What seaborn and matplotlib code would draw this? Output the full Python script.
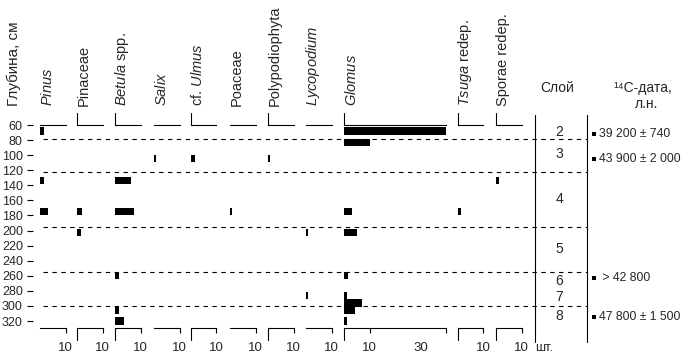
import matplotlib
matplotlib.use("Agg")
import matplotlib.pyplot as plt
import numpy as np
import pandas as pd
import seaborn as sns

# counts (шт.) per sample depth (cm)
pinus_depth = [68, 134, 175]
pinus_n = [1.7, 1.7, 3.0]
pinaceae_depth = [175, 203]
pinaceae_n = [2.1, 1.6]
betula_depth = [134, 175, 260, 306, 320]
betula_n = [6.3, 7.5, 1.4, 1.4, 3.5]
salix_depth = [104]
salix_n = [0.8]
ulmus_depth = [104]
ulmus_n = [1.4]
poaceae_depth = [175]
poaceae_n = [0.9]
polypod_depth = [104]
polypod_n = [0.9]
lycopodium_depth = [203, 286]
lycopodium_n = [0.9, 0.9]
glomus_depth = [68, 83, 175, 203, 260, 286, 296, 306, 320]
glomus_n = [40, 10.2, 3.0, 5.0, 1.7, 1.0, 7.0, 4.2, 1.2]
tsuga_depth = [175]
tsuga_n = [1.2]
sporae_depth = [134]
sporae_n = [1.2]

taxa_labels = ["$\\it{Pinus}$", "Pinaceae", "$\\it{Betula}$ spp.", "$\\it{Salix}$",
               "cf. $\\it{Ulmus}$", "Poaceae", "Polypodiophyta", "$\\it{Lycopodium}$",
               "$\\it{Glomus}$", "$\\it{Tsuga}$ redep.", "Sporae redep."]

depth_ticks = list(range(60, 321, 20))
layer_bounds = [78, 122, 195, 255, 300]
layer_names = ["2", "3", "4", "5", "6", "7", "8"]
layer_mid = [69, 99, 158, 225, 267, 288, 313]
date_depth = [72, 105, 263, 314]
date_text = ["39 200 ± 740", "43 900 ± 2 000", " > 42 800", "47 800 ± 1 500"]

sns.set_theme(style="white")
plt.rcParams["font.family"] = ["Liberation Sans", "DejaVu Sans"]
plt.rcParams["mathtext.fontset"] = "custom"
plt.rcParams["mathtext.rm"] = "Liberation Sans"
plt.rcParams["mathtext.it"] = "Liberation Sans:italic"

W, H = 683, 354
fig = plt.figure(figsize=(W / 100, H / 100), dpi=100)
fig.patch.set_facecolor("white")

top_px, bot_px = 125, 328.3
px_per_cm = 0.754
dmax = 60 + (bot_px - top_px) / px_per_cm
ext = 12 / px_per_cm
ax_b = 1 - bot_px / H
ax_h = (bot_px - top_px) / H

panels = [
    (pinus_depth, pinus_n, 40, 10, False),
    (pinaceae_depth, pinaceae_n, 77, 10, True),
    (betula_depth, betula_n, 115, 10, True),
    (salix_depth, salix_n, 154, 10, False),
    (ulmus_depth, ulmus_n, 191, 10, True),
    (poaceae_depth, poaceae_n, 230, 10, False),
    (polypod_depth, polypod_n, 268, 10, True),
    (lycopodium_depth, lycopodium_n, 306, 10, False),
    (glomus_depth, glomus_n, 344, 40, True),
    (tsuga_depth, tsuga_n, 458, 10, True),
    (sporae_depth, sporae_n, 496, 10, True),
]
unit_px = 2.55
bar_h = 9.5

for (depth, n, x0, xmax, mark), label in zip(panels, taxa_labels):
    ax = fig.add_axes([x0 / W, ax_b, xmax * unit_px / W, ax_h])
    ax.patch.set_alpha(0)
    df = pd.DataFrame({"depth": depth, "n": n})
    u = np.unique(depth)
    nat = np.diff(u).min() if len(u) > 1 else 1
    sns.barplot(data=df, x="n", y="depth", orient="y", native_scale=True,
                width=bar_h / nat, color="black", saturation=1, errorbar=None,
                linewidth=0, ax=ax)
    ax.set(xlabel="", ylabel="")
    ax.set_xlim(0, xmax)
    ax.set_ylim(dmax, 60)
    for s in ["left", "right"]:
        ax.spines[s].set_visible(False)
    for s in ["top", "bottom"]:
        ax.spines[s].set_linewidth(0.8)
        ax.spines[s].set_color("black")
    ax.set_yticks([])
    if xmax == 40:
        ax.set_xticks([10, 40], ["10", ""])
        ax.set_xticks([30], ["30"], minor=True)
    else:
        ax.set_xticks([10], ["10"])
    ax.tick_params(axis="x", which="major", bottom=True, direction="out", length=3.6,
                   width=0.8, pad=6.5, labelsize=9.5, color="black")
    ax.tick_params(axis="x", which="minor", bottom=True, length=0, pad=10.1, labelsize=9.5)
    if mark:
        ax.plot([0, 0], [60, 60 - ext], color="black", lw=0.8, clip_on=False)
        ax.plot([0, 0], [dmax, dmax + ext], color="black", lw=0.8, clip_on=False)
    fig.text((x0 + 7) / W, 1 - 106 / H, label, rotation=90, ha="center", va="bottom",
             fontsize=10.5)

# depth scale
ax_d = fig.add_axes([33 / W, ax_b, 0.0001, ax_h])
ax_d.patch.set_alpha(0)
for s in ax_d.spines.values():
    s.set_visible(False)
ax_d.set_ylim(dmax, 60)
ax_d.set_xticks([])
ax_d.set_yticks(depth_ticks)
ax_d.tick_params(axis="y", left=True, length=4.3, width=0.8, pad=3, labelsize=9,
                 color="black")
fig.text(14 / W, 1 - 106 / H, "Глубина, см", rotation=90, ha="center", va="bottom",
         fontsize=11)

# layers, boundaries and dates
ax_s = fig.add_axes([0, ax_b, 1, ax_h])
ax_s.axis("off")
ax_s.patch.set_alpha(0)
ax_s.set_xlim(0, W)
ax_s.set_ylim(dmax, 60)
ax_s.hlines(layer_bounds, 43, 587, colors="black", lw=0.8, linestyles=(0, (4, 4)))
for xv in [535, 587]:
    ax_s.plot([xv, xv], [60 - 13, dmax + 18], color="black", lw=0.8, clip_on=False)
for name, d in zip(layer_names, layer_mid):
    ax_s.text(559, d, name, ha="center", va="center", fontsize=10)
ax_s.scatter([594] * len(date_depth), date_depth, marker="s", s=12, color="black",
             linewidths=0)
for t, d in zip(date_text, date_depth):
    ax_s.text(599, d, t, ha="left", va="center", fontsize=8.8)

fig.text(557 / W, 1 - 88 / H, "Слой", ha="center", va="center", fontsize=10)
fig.text(643 / W, 1 - 88 / H, "¹⁴С-дата,", ha="center", va="center", fontsize=10)
fig.text(647 / W, 1 - 104 / H, "л.н.", ha="center", va="center", fontsize=10)
fig.text(535 / W, 1 - 348 / H, "шт.", ha="left", va="center", fontsize=9)

fig.savefig("out.png", dpi=100, facecolor="white")
